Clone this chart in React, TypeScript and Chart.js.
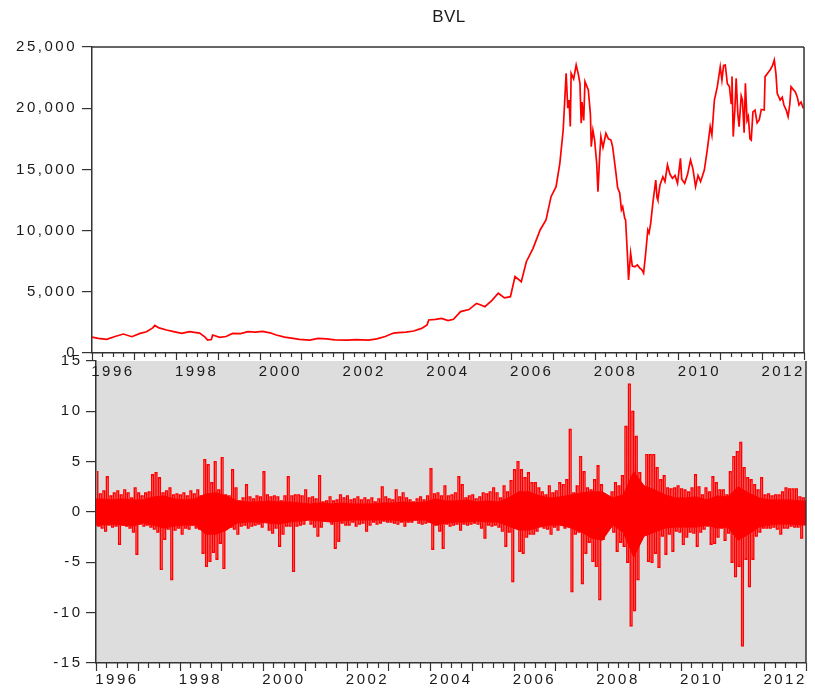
import React, { useEffect, useRef } from "react";
import { Chart, registerables } from "chart.js";

Chart.register(...registerables);

// ---------------- data ----------------
const TITLE = "BVL";
const X_MIN = 1996;
const X_MAX = 2013;
const YEAR_LABELS = [1996, 1998, 2000, 2002, 2004, 2006, 2008, 2010, 2012];
const LEVEL_TICK_STEP = 5000;
const LEVEL_MIN = 0;
const LEVEL_MAX = 25000;
const RETURN_MIN = -15;
const RETURN_MAX = 15;
const RETURN_TICK_STEP = 5;

// BVL index level (date as decimal year, value)
const BVL_DATES = [
  1996.0, 1996.15, 1996.35, 1996.55, 1996.75, 1996.95, 1997.15, 1997.3, 1997.45, 1997.5,
  1997.6, 1997.78, 1997.95, 1998.14, 1998.33, 1998.57, 1998.7, 1998.76, 1998.85, 1998.88,
  1999.05, 1999.2, 1999.36, 1999.55, 1999.72, 1999.9, 2000.07, 2000.25, 2000.4, 2000.6,
  2000.8, 2000.95, 2001.2, 2001.4, 2001.6, 2001.8, 2002.1, 2002.3, 2002.6, 2002.8,
  2003.0, 2003.2, 2003.32, 2003.5, 2003.68, 2003.87, 2004.0, 2004.04, 2004.2, 2004.35,
  2004.5, 2004.63, 2004.8, 2005.0, 2005.18, 2005.3, 2005.38, 2005.55, 2005.7, 2005.85,
  2005.99, 2006.1, 2006.25, 2006.37, 2006.53, 2006.7, 2006.84, 2006.96, 2007.08, 2007.17,
  2007.25, 2007.3, 2007.32, 2007.36, 2007.39, 2007.42, 2007.44, 2007.5, 2007.56, 2007.61,
  2007.65, 2007.68, 2007.7, 2007.74, 2007.77, 2007.85, 2007.9, 2007.92, 2007.96, 2008.0,
  2008.05, 2008.08, 2008.12, 2008.15, 2008.2, 2008.27, 2008.33, 2008.39, 2008.43, 2008.51,
  2008.55, 2008.6, 2008.64, 2008.67, 2008.72, 2008.74, 2008.79, 2008.81, 2008.86, 2008.9,
  2008.96, 2009.02, 2009.08, 2009.13, 2009.17, 2009.22, 2009.27, 2009.3, 2009.34, 2009.39,
  2009.46, 2009.49, 2009.51, 2009.56, 2009.63, 2009.68, 2009.74, 2009.8, 2009.86, 2009.92,
  2009.98, 2010.05, 2010.08, 2010.15, 2010.22, 2010.29, 2010.35, 2010.41, 2010.47, 2010.53,
  2010.62, 2010.69, 2010.76, 2010.8, 2010.86, 2010.93, 2011.0, 2011.04, 2011.08, 2011.12,
  2011.17, 2011.22, 2011.26, 2011.28, 2011.31, 2011.35, 2011.38, 2011.42, 2011.45, 2011.5,
  2011.53, 2011.57, 2011.6, 2011.64, 2011.67, 2011.71, 2011.74, 2011.78, 2011.83, 2011.88,
  2011.93, 2011.98, 2012.05, 2012.07, 2012.14, 2012.19, 2012.25, 2012.29, 2012.33, 2012.36,
  2012.43, 2012.48, 2012.52, 2012.58, 2012.62, 2012.66, 2012.69, 2012.75, 2012.79, 2012.84,
  2012.88, 2012.93, 2012.98,
];
const BVL_VALUES = [
  1300, 1200, 1120, 1350, 1550, 1330, 1600, 1740, 2050, 2250,
  2050, 1880, 1750, 1610, 1750, 1630, 1300, 1060, 1100, 1470,
  1280, 1350, 1600, 1580, 1740, 1700, 1760, 1650, 1470, 1300,
  1200, 1120, 1050, 1200, 1150, 1080, 1060, 1100, 1050, 1150,
  1350, 1630, 1660, 1700, 1800, 2010, 2300, 2700, 2750, 2830,
  2650, 2750, 3380, 3550, 4050, 3900, 3780, 4300, 4880, 4500,
  4600, 6240, 5830, 7460, 8550, 10050, 10870, 12770, 13590, 15500,
  18220, 21500, 22850, 20000, 20670, 18500, 22850, 22400, 23530, 22800,
  22030, 18780, 20500, 19000, 22170, 21490, 19500, 16860, 18200, 17400,
  15500, 13180, 16000, 17680, 16800, 17950, 17500, 17400, 16860, 14700,
  13500, 13070, 11700, 11950, 11000, 10870, 7600, 5960, 8170, 7100,
  7050, 7200, 6940, 6800, 6530, 8170, 10050, 9800, 10600, 12230,
  14130, 12700, 12500, 13700, 14400, 14000, 15360, 14600, 14270, 14500,
  13860, 15900, 14200, 13860, 14600, 15770, 15000, 13590, 14500, 14000,
  14950, 16590, 18490, 17800, 20670, 21760, 23390, 22300, 23500, 23530,
  22000, 21760, 20390, 22600, 17680, 20000, 22440, 19500, 18490, 21000,
  20670, 18000, 22030, 19000, 19310, 17500, 17400, 19700, 19850, 18800,
  19040, 19900, 19850, 22580, 22900, 23120, 23500, 23940, 22800, 21220,
  20670, 20900, 20260, 19800, 19310, 20300, 21760, 21500, 21350, 20900,
  20260, 20500, 20000,
];

// Daily returns, summarised per month (Jan 1996 .. Dec 2012): highest and lowest value
const RETURN_FIRST_YEAR = 1996;
const RETURN_HIGH = [
  4.0, 1.8, 2.1, 3.5, 1.6, 1.9, 2.1, 1.7, 2.2, 1.9, 1.4, 2.4, // 1996
  1.9, 1.6, 1.9, 2.0, 3.7, 3.9, 3.4, 1.9, 2.1, 2.4, 1.7, 1.8, // 1997
  1.7, 1.9, 1.6, 2.1, 1.8, 2.2, 1.6, 5.2, 4.7, 2.9, 5.0, 2.2, // 1998
  5.4, 1.7, 1.6, 4.2, 2.4, 1.1, 1.4, 2.7, 1.5, 1.3, 1.6, 1.5, // 1999
  4.0, 1.7, 1.5, 1.6, 1.5, 1.1, 1.6, 3.5, 1.6, 1.7, 1.7, 1.6, // 2000
  2.2, 1.4, 1.5, 1.3, 3.6, 1.0, 1.1, 1.5, 1.1, 1.2, 1.7, 1.4, // 2001
  1.6, 1.2, 1.3, 1.5, 1.2, 1.4, 1.2, 1.4, 1.0, 1.3, 2.5, 1.5, // 2002
  1.3, 1.2, 2.2, 1.5, 1.9, 1.4, 1.2, 1.0, 1.3, 1.5, 1.2, 1.6, // 2003
  4.3, 1.8, 1.9, 1.6, 2.6, 1.6, 1.7, 1.9, 3.5, 2.7, 1.4, 1.6, // 2004
  1.7, 1.3, 1.5, 1.9, 1.8, 2.0, 2.4, 1.9, 1.4, 2.6, 2.0, 3.1, // 2005
  4.2, 5.0, 4.2, 3.4, 3.9, 2.9, 2.9, 2.4, 2.0, 1.7, 2.6, 1.9, // 2006
  2.1, 2.9, 2.7, 3.2, 8.2, 1.9, 2.6, 5.5, 4.0, 2.4, 2.2, 3.2, // 2007
  4.6, 2.7, 1.6, 1.4, 2.0, 2.9, 2.6, 3.6, 8.5, 12.7, 10.0, 7.5, // 2008
  3.9, 1.9, 5.7, 5.7, 5.7, 4.4, 3.2, 3.6, 2.4, 2.3, 2.4, 2.6, // 2009
  2.3, 2.2, 2.0, 2.4, 3.7, 2.5, 1.7, 2.4, 2.0, 3.5, 2.9, 2.2, // 2010
  2.2, 1.7, 4.0, 5.5, 6.0, 6.9, 4.4, 3.4, 3.2, 2.7, 2.2, 3.4, // 2011
  1.7, 1.8, 1.6, 1.7, 1.7, 2.0, 2.4, 2.3, 2.3, 2.3, 1.5, 1.4, // 2012
];
const RETURN_LOW = [
  -1.4, -1.6, -1.9, -1.3, -1.5, -1.4, -3.2, -1.3, -1.4, -1.6, -2.0, -4.2, // 1996
  -1.2, -1.4, -1.3, -1.5, -1.7, -2.0, -5.7, -2.7, -1.7, -6.7, -1.8, -1.6, // 1997
  -2.2, -1.6, -1.7, -1.3, -1.6, -1.7, -4.1, -5.4, -4.9, -4.0, -4.7, -3.1, // 1998
  -5.6, -1.0, -1.5, -1.7, -2.2, -1.4, -1.3, -1.6, -1.4, -1.3, -1.2, -1.5, // 1999
  -0.8, -1.8, -2.1, -1.6, -3.4, -2.2, -1.4, -1.4, -5.9, -1.4, -1.3, -1.2, // 2000
  -0.7, -1.2, -1.5, -2.4, -1.5, -0.8, -0.9, -1.2, -3.6, -2.9, -1.1, -1.3, // 2001
  -1.3, -1.0, -1.4, -1.2, -1.1, -1.9, -1.3, -1.0, -1.2, -1.1, -0.9, -1.0, // 2002
  -1.0, -1.1, -1.2, -1.0, -1.4, -1.0, -1.0, -0.8, -1.1, -1.2, -1.1, -1.0, // 2003
  -3.7, -1.3, -1.9, -3.6, -1.2, -1.4, -1.3, -1.2, -1.8, -1.2, -1.3, -1.2, // 2004
  -1.1, -1.2, -1.6, -2.6, -1.3, -1.4, -1.3, -1.5, -1.9, -3.4, -2.0, -6.9, // 2005
  -1.5, -3.9, -4.1, -2.5, -2.2, -2.2, -1.9, -1.4, -1.6, -1.7, -2.2, -1.5, // 2006
  -1.8, -1.3, -1.6, -1.2, -7.9, -2.2, -2.0, -7.1, -4.1, -3.0, -4.9, -5.4, // 2007
  -8.7, -2.7, -1.3, -1.5, -2.0, -3.9, -3.0, -3.4, -5.0, -11.3, -9.8, -6.7, // 2008
  -2.4, -1.7, -4.9, -5.0, -4.1, -5.5, -2.4, -4.2, -2.2, -3.9, -1.9, -2.0, // 2009
  -3.2, -2.5, -2.0, -2.1, -3.4, -2.0, -1.7, -1.4, -3.2, -3.1, -2.5, -1.6, // 2010
  -2.8, -2.1, -5.0, -6.4, -5.4, -13.3, -4.7, -7.4, -4.7, -2.4, -2.0, -1.6, // 2011
  -1.6, -1.6, -1.5, -1.7, -2.2, -1.6, -1.6, -1.4, -1.5, -1.5, -2.6, -1.2, // 2012
];
// Dense core of the daily returns, per quarter (Q1 1996 .. Q4 2012)
const CORE_UP = [
  1.3, 1.2, 1.3, 1.2, // 1996
  1.2, 1.5, 1.6, 1.3, // 1997
  1.2, 1.3, 1.8, 1.9, // 1998
  1.6, 1.1, 1.0, 1.0, // 1999
  1.1, 1.0, 1.0, 0.9, // 2000
  0.8, 0.9, 0.8, 0.9, // 2001
  0.8, 0.8, 0.8, 0.9, // 2002
  0.9, 1.0, 0.9, 1.0, // 2003
  1.3, 1.1, 1.1, 1.2, // 2004
  1.0, 1.1, 1.0, 1.4, // 2005
  2.0, 2.0, 1.6, 1.4, // 2006
  1.5, 1.7, 1.9, 2.0, // 2007
  2.0, 1.4, 1.7, 4.0, // 2008
  2.6, 2.2, 1.7, 1.4, // 2009
  1.4, 1.5, 1.2, 1.6, // 2010
  1.5, 2.5, 1.9, 1.4, // 2011
  1.2, 1.2, 1.2, 1.1, // 2012
];
const CORE_DOWN = [
  -1.3, -1.2, -1.3, -1.4, // 1996
  -1.1, -1.3, -1.6, -1.4, // 1997
  -1.3, -1.3, -2.2, -2.2, // 1998
  -1.8, -1.1, -1.0, -1.0, // 1999
  -1.1, -1.2, -1.0, -0.9, // 2000
  -0.8, -0.9, -1.0, -0.9, // 2001
  -0.8, -0.8, -0.8, -0.8, // 2002
  -0.8, -0.9, -0.8, -0.8, // 2003
  -1.3, -1.1, -1.0, -1.0, // 2004
  -0.9, -1.0, -1.0, -1.4, // 2005
  -1.8, -1.8, -1.5, -1.3, // 2006
  -1.3, -1.6, -2.0, -2.6, // 2007
  -2.8, -1.3, -2.0, -4.5, // 2008
  -2.4, -2.0, -1.6, -1.5, // 2009
  -1.5, -1.5, -1.3, -1.6, // 2010
  -1.5, -2.8, -2.2, -1.5, // 2011
  -1.3, -1.2, -1.2, -1.3, // 2012
];

// ---------------- styles ----------------
const FONT_FAMILY = "Arial, 'Liberation Sans', Helvetica, sans-serif";
const TICK_FONT = { family: FONT_FAMILY, size: 15 };
const TEXT_COLOR = "#1a1a1a";
const AXIS_COLOR = "#333333";
const LINE_RED = "#ff0000";
const PANEL_GRAY = "#dddddd";
const LETTER_SPACING = "2.5px";

const spacingPlugin = {
  id: "letterSpacing",
  beforeUpdate(chart: any) {
    chart.ctx.letterSpacing = LETTER_SPACING;
  },
  beforeLayout(chart: any) {
    chart.ctx.letterSpacing = LETTER_SPACING;
  },
  beforeDraw(chart: any) {
    chart.ctx.letterSpacing = LETTER_SPACING;
  },
};

function quarterTicksPlugin(major: number, minor: number) {
  return {
    id: "quarterTicks",
    afterDraw(chart: any) {
      const xs = chart.scales.x;
      const ctx = chart.ctx;
      ctx.save();
      ctx.strokeStyle = AXIS_COLOR;
      ctx.lineWidth = 1.2;
      const n = (X_MAX - X_MIN) * 4;
      for (let i = 0; i <= n; i++) {
        const px = Math.round(xs.getPixelForValue(X_MIN + i / 4)) + 0.5;
        const len = i % 4 === 0 ? major : minor;
        ctx.beginPath();
        ctx.moveTo(px, xs.top);
        ctx.lineTo(px, xs.top + len);
        ctx.stroke();
      }
      ctx.restore();
    },
  };
}

function framePlugin(top: boolean, bg: string | null) {
  return {
    id: "frame",
    beforeDraw(chart: any) {
      if (!bg) return;
      const a = chart.chartArea;
      const ctx = chart.ctx;
      ctx.save();
      ctx.fillStyle = bg;
      ctx.fillRect(a.left, a.top, a.right - a.left, a.bottom - a.top);
      ctx.restore();
    },
    afterDraw(chart: any) {
      const a = chart.chartArea;
      const ctx = chart.ctx;
      ctx.save();
      ctx.strokeStyle = AXIS_COLOR;
      ctx.lineWidth = 1.5;
      ctx.beginPath();
      if (top) {
        ctx.moveTo(a.left, a.top);
        ctx.lineTo(a.right, a.top);
      }
      ctx.moveTo(a.right, a.top);
      ctx.lineTo(a.right, a.bottom);
      ctx.stroke();
      ctx.restore();
    },
  };
}

const titlePlugin = {
  id: "bvlTitle",
  afterDraw(chart: any) {
    const a = chart.chartArea;
    const ctx = chart.ctx;
    ctx.save();
    ctx.letterSpacing = "0.5px";
    ctx.font = `17px ${FONT_FAMILY}`;
    ctx.fillStyle = TEXT_COLOR;
    ctx.textAlign = "center";
    ctx.textBaseline = "middle";
    ctx.fillText(TITLE, (a.left + a.right) / 2 + 1, 17);
    ctx.restore();
  },
};

function xScale(height: number, padding: number) {
  return {
    type: "linear",
    min: X_MIN,
    max: X_MAX,
    afterBuildTicks: (s: any) => {
      s.ticks = YEAR_LABELS.map((y) => ({ value: y + 0.5 }));
    },
    afterFit: (s: any) => {
      s.height = height;
    },
    ticks: {
      callback: (v: any) => String(Math.floor(Number(v))),
      font: TICK_FONT,
      color: TEXT_COLOR,
      padding,
      maxRotation: 0,
      autoSkip: false,
    },
    grid: { display: false, drawTicks: false },
    border: { display: true, color: AXIS_COLOR, width: 1.5 },
  };
}

function yScale(width: number, min: number, max: number, step: number, padding: number, fmt: (v: number) => string) {
  return {
    min,
    max,
    afterFit: (s: any) => {
      s.width = width;
    },
    ticks: {
      stepSize: step,
      callback: (v: any) => fmt(Number(v)),
      font: TICK_FONT,
      color: TEXT_COLOR,
      padding,
    },
    grid: { drawOnChartArea: false, drawTicks: true, tickLength: 10, color: AXIS_COLOR, lineWidth: 1.2 },
    border: { display: true, color: AXIS_COLOR, width: 1.5 },
  };
}

export default function App() {
  const topRef = useRef<HTMLCanvasElement | null>(null);
  const bottomRef = useRef<HTMLCanvasElement | null>(null);

  useEffect(() => {
    const levelPoints = BVL_DATES.map((d, i) => ({ x: d, y: BVL_VALUES[i] }));

    const returnPoints: { x: number; y: number }[] = [];
    RETURN_HIGH.forEach((hi, i) => {
      const start = RETURN_FIRST_YEAR + i / 12;
      returnPoints.push({ x: start + 0.25 / 12, y: hi });
      returnPoints.push({ x: start + 0.75 / 12, y: RETURN_LOW[i] });
    });

    const bandPoints = (vals: number[]) => {
      const pts = vals.map((v, i) => ({ x: RETURN_FIRST_YEAR + (i + 0.5) / 4, y: v }));
      return [{ x: X_MIN, y: vals[0] }, ...pts, { x: X_MAX, y: vals[vals.length - 1] }];
    };

    const top = new Chart(topRef.current as HTMLCanvasElement, {
      type: "line",
      data: {
        datasets: [
          {
            data: levelPoints,
            borderColor: LINE_RED,
            borderWidth: 1.7,
            pointRadius: 0,
            tension: 0,
            fill: false,
          },
        ],
      },
      options: {
        animation: false,
        responsive: false,
        layout: { padding: { top: 47, right: 8, left: 0, bottom: 0 } },
        plugins: { legend: { display: false }, tooltip: { enabled: false }, title: { display: false } },
        scales: {
          x: xScale(32, 10) as any,
          y: yScale(92, LEVEL_MIN, LEVEL_MAX, LEVEL_TICK_STEP, 5, (v) => v.toLocaleString("en-US")) as any,
        },
      },
      plugins: [spacingPlugin, quarterTicksPlugin(7, 4), framePlugin(true, null), titlePlugin],
    } as any);

    const bottom = new Chart(bottomRef.current as HTMLCanvasElement, {
      type: "line",
      data: {
        datasets: [
          {
            data: returnPoints,
            borderColor: LINE_RED,
            borderWidth: 1.4,
            pointRadius: 0,
            tension: 0,
            stepped: "middle",
            fill: false,
          },
          {
            data: bandPoints(CORE_UP),
            borderColor: LINE_RED,
            borderWidth: 1,
            backgroundColor: LINE_RED,
            pointRadius: 0,
            tension: 0,
            fill: "origin",
          },
          {
            data: bandPoints(CORE_DOWN),
            borderColor: LINE_RED,
            borderWidth: 1,
            backgroundColor: LINE_RED,
            pointRadius: 0,
            tension: 0,
            fill: "origin",
          },
        ],
      },
      options: {
        animation: false,
        responsive: false,
        layout: { padding: { top: 31, right: 7, left: 0, bottom: 0 } },
        plugins: {
          legend: { display: false },
          tooltip: { enabled: false },
          title: { display: false },
          filler: { propagate: false },
        },
        scales: {
          x: xScale(25, 8) as any,
          y: yScale(96, RETURN_MIN, RETURN_MAX, RETURN_TICK_STEP, 3.5, (v) => String(v)) as any,
        },
      },
      plugins: [spacingPlugin, quarterTicksPlugin(8, 5), framePlugin(false, PANEL_GRAY)],
    } as any);

    return () => {
      top.destroy();
      bottom.destroy();
    };
  }, []);

  return (
    <div style={{ position: "absolute", left: 0, top: 0, width: 815, height: 688, background: "#ffffff" }}>
      <canvas
        ref={bottomRef}
        width={815}
        height={358}
        style={{ position: "absolute", left: 0, top: 330, width: 815, height: 358, zIndex: 1 }}
      />
      <canvas
        ref={topRef}
        width={815}
        height={385}
        style={{ position: "absolute", left: 0, top: 0, width: 815, height: 385, zIndex: 2 }}
      />
    </div>
  );
}
